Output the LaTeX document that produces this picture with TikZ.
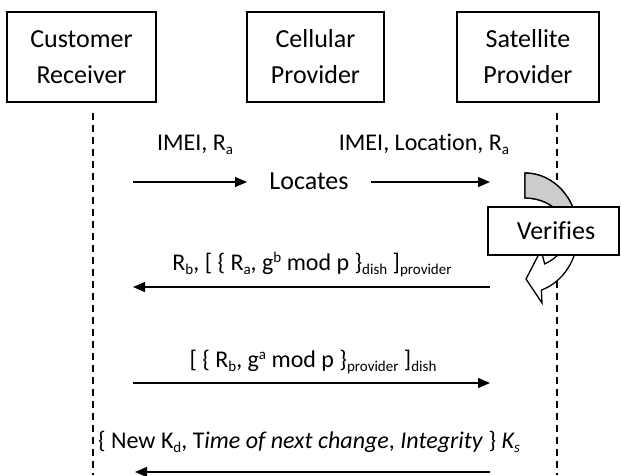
\documentclass[tikz,border=0pt]{standalone}
\usepackage{fontspec}
\setmainfont{Carlito}[Ligatures=CommonOff]
\usetikzlibrary{arrows.meta}
\newcommand\mysub[1]{\raisebox{-0.2em}{\fontsize{15}{15}\selectfont #1}}
\newcommand\mysup[1]{\raisebox{0.3em}{\fontsize{15}{15}\selectfont #1}}
\begin{document}
\begin{tikzpicture}[x=1pt,y=-1pt,
  actor/.style={draw=black, line width=1.4pt, fill=white, align=center,
    font=\fontsize{26}{36}\selectfont, inner sep=0pt, minimum height=90pt},
  lifeline/.style={draw=black, line width=1.3pt, dash pattern=on 7pt off 5pt},
  msg/.style={draw=black, line width=1.3pt, -{Triangle[length=12pt,width=10pt]}},
  lbl/.style={font=\fontsize{24}{29}\selectfont, anchor=base, inner sep=0pt},
  bigtxt/.style={font=\fontsize{26}{31}\selectfont, anchor=base, inner sep=0pt},
  procbox/.style={draw=black, line width=1.4pt, fill=white, inner sep=0pt,
    font=\fontsize{26}{31}\selectfont},
  cyclearrow/.style={draw=black, line width=1.3pt, line join=miter},
]
\useasboundingbox (0,0) rectangle (621,475);

% actors
\node[actor, minimum width=149pt] (cust) at (81.5,57) {Customer\\Receiver};
\node[actor, minimum width=137pt] (cell) at (315.5,57) {Cellular\\Provider};
\node[actor, minimum width=142pt] (sat) at (528,57) {Satellite\\Provider};

% lifelines
\coordinate (cl0) at (93,113);
\coordinate (cl1) at (93,475);
\coordinate (sl0) at (557,113);
\coordinate (sl1) at (557,475);
\draw[lifeline] (cl0) -- (cl1);
\draw[lifeline] (sl0) -- (sl1);

% circular "verifies" arrow
\path[cyclearrow, fill=white] (525,173)
  arc[start angle=-90, end angle=72, x radius=53, y radius=60]
  -- (542,303) -- (526,279) -- (541,250) -- (544.7,263.9)
  arc[start angle=62, end angle=-90, x radius=42, y radius=35] -- cycle;
\path[cyclearrow, fill=gray!40] (525,173)
  arc[start angle=-90, end angle=0, x radius=53, y radius=60]
  -- (567,233)
  arc[start angle=0, end angle=-90, x radius=42, y radius=35] -- cycle;
\node[procbox, minimum width=131pt, minimum height=48pt] (ver) at (553.5,231) {\hspace{5pt}Verifies};

% message 1 / 2
\node[lbl] (l1) at (195,150) {IMEI, R\mysub{a}};
\node[lbl] (l2) at (424,150) {IMEI, Location, R\mysub{a}};
\node[bigtxt] (loc) at (309,189) {Locates};
\coordinate (m1s) at (133,182);
\coordinate (m1e) at (247,182);
\coordinate (m2s) at (371,182);
\coordinate (m2e) at (490,182);
\draw[msg] (m1s) -- (m1e);
\draw[msg] (m2s) -- (m2e);

% message 3
\node[lbl] (l3) at (312,270) {R\mysub{b}, [ \{ R\mysub{a}, g\mysup{b} mod p \}\mysub{dish} ]\mysub{provider}};
\coordinate (m3s) at (490,287);
\coordinate (m3e) at (133,287);
\draw[msg] (m3s) -- (m3e);

% message 4
\node[lbl] (l4) at (313,367) {[ \{ R\mysub{b}, g\mysup{a} mod p \}\mysub{provider} ]\mysub{dish}};
\coordinate (m4s) at (133,383);
\coordinate (m4e) at (490,383);
\draw[msg] (m4s) -- (m4e);

% message 5
\node[lbl] (l5) at (309,448) {\{ New K\mysub{d}, T\textit{ime of next change}, \textit{Integrity} \} \textit{K\mysub{s}}};
\coordinate (m5s) at (490,472);
\coordinate (m5e) at (135,472);
\draw[msg] (m5s) -- (m5e);
\end{tikzpicture}
\end{document}
